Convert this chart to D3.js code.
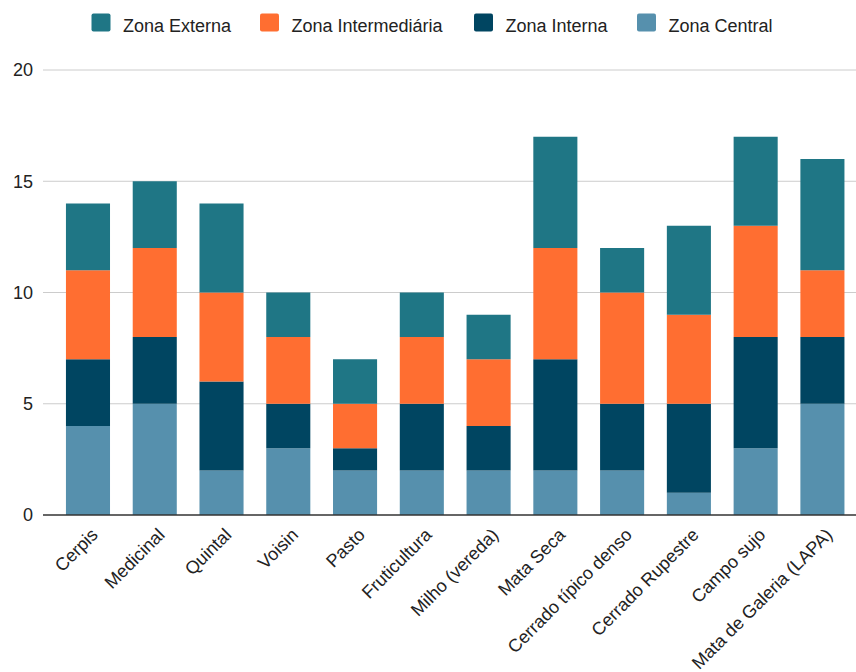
<!DOCTYPE html>
<html>
<head>
<meta charset="utf-8">
<script src="https://cdn.jsdelivr.net/npm/d3@7"></script>
<style>
  body { margin: 0; background: #fff; }
  svg { font-family: "Liberation Sans", Arial, sans-serif; }
</style>
</head>
<body>
<div id="chart"></div>
<script>
// categorias e series
const categories = ["Cerpis", "Medicinal", "Quintal", "Voisin", "Pasto", "Fruticultura",
  "Milho (vereda)", "Mata Seca", "Cerrado típico denso", "Cerrado Rupestre", "Campo sujo",
  "Mata de Galeria (LAPA)"];
const zonaCentral       = [4, 5, 2, 3, 2, 2, 2, 2, 2, 1, 3, 5];
const zonaInterna       = [3, 3, 4, 2, 1, 3, 2, 5, 3, 4, 5, 3];
const zonaIntermediaria = [4, 4, 4, 3, 2, 3, 3, 5, 5, 4, 5, 3];
const zonaExterna       = [3, 3, 4, 2, 2, 2, 2, 5, 2, 4, 4, 5];
const yTicks = [0, 5, 10, 15, 20];

const seriesNames = ["Zona Central", "Zona Interna", "Zona Intermediária", "Zona Externa"];
const legendOrder = ["Zona Externa", "Zona Intermediária", "Zona Interna", "Zona Central"];
const colors = {
  "Zona Central": "#5690ad",
  "Zona Interna": "#004561",
  "Zona Intermediária": "#ff6e31",
  "Zona Externa": "#1f7685"
};

const width = 856, height = 672;

const svg = d3.select("#chart").append("svg")
  .attr("width", width)
  .attr("height", height);

// tabela para o stack
const table = categories.map((c, i) => ({
  cat: c,
  "Zona Central": zonaCentral[i],
  "Zona Interna": zonaInterna[i],
  "Zona Intermediária": zonaIntermediaria[i],
  "Zona Externa": zonaExterna[i]
}));
const stacked = d3.stack().keys(seriesNames)(table);

const x = d3.scaleBand()
  .domain(categories)
  .range([54.6, 855.8])
  .paddingInner(0.34)
  .paddingOuter(0.17);

const y = d3.scaleLinear()
  .domain([0, 20])
  .range([515, 70]);

// grade
svg.append("g")
  .selectAll("line")
  .data(yTicks.filter(d => d > 0))
  .join("line")
  .attr("x1", 43)
  .attr("x2", 856)
  .attr("y1", d => y(d))
  .attr("y2", d => y(d))
  .attr("stroke", "#cccccc")
  .attr("stroke-width", 1);

// eixo y
const yAxis = svg.append("g")
  .attr("transform", "translate(43,0)")
  .call(d3.axisLeft(y).tickValues(yTicks).tickSize(0).tickPadding(10));
yAxis.select(".domain").remove();
yAxis.selectAll("text")
  .style("font-size", "18px")
  .style("font-family", "'Liberation Sans', Arial, sans-serif")
  .attr("fill", "#222");

// barras
svg.append("g")
  .selectAll("g")
  .data(stacked)
  .join("g")
  .attr("fill", d => colors[d.key])
  .selectAll("rect")
  .data(d => d)
  .join("rect")
  .attr("x", d => x(d.data.cat))
  .attr("y", d => y(d[1]))
  .attr("width", x.bandwidth())
  .attr("height", d => y(d[0]) - y(d[1]));

// linha do zero
svg.append("line")
  .attr("x1", 43)
  .attr("x2", 856)
  .attr("y1", y(0))
  .attr("y2", y(0))
  .attr("stroke", "#333")
  .attr("stroke-width", 1.3);

// eixo x
const xAxis = svg.append("g")
  .attr("transform", `translate(0,${y(0)})`)
  .call(d3.axisBottom(x).tickSize(0).tickPadding(0));
xAxis.select(".domain").remove();
xAxis.selectAll("text")
  .style("font-size", "18px")
  .style("font-family", "'Liberation Sans', Arial, sans-serif")
  .attr("fill", "#222")
  .attr("text-anchor", "end")
  .attr("y", 0)
  .attr("dy", "0")
  .attr("transform", "translate(11,21) rotate(-45)");

// legenda
const legendX = [91.5, 260, 474, 637];
const legend = svg.append("g");
legendOrder.forEach((name, i) => {
  legend.append("rect")
    .attr("x", legendX[i])
    .attr("y", 13.5)
    .attr("width", 19)
    .attr("height", 18)
    .attr("rx", 2)
    .attr("fill", colors[name]);
  legend.append("text")
    .attr("x", legendX[i] + 31.5)
    .attr("y", 31.5)
    .style("font-size", "18px")
    .attr("fill", "#222")
    .text(name);
});
</script>
</body>
</html>
